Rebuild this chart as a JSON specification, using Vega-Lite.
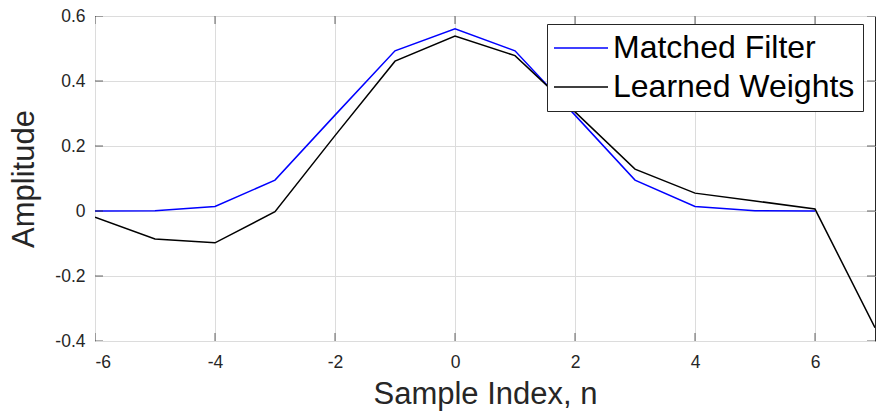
{
  "$schema": "https://vega.github.io/schema/vega-lite/v6.json",
  "autosize": {"type": "none"},
  "width": 780,
  "height": 325,
  "padding": {"left": 95, "top": 16, "right": 7, "bottom": 71},
  "background": "white",
  "config": {
    "view": {"stroke": "#262626", "strokeWidth": 1},
    "font": "Liberation Sans",
    "axis": {
      "domain": false,
      "labelColor": "#262626",
      "titleColor": "#262626",
      "labelFont": "Liberation Sans",
      "titleFont": "Liberation Sans",
      "labelFontSize": 17.5,
      "titleFontSize": 31,
      "titleFontWeight": "normal",
      "gridColor": "#dcdcdc",
      "gridWidth": 1,
      "ticks": false
    }
  },
  "datasets": {
    "curves": [
      {"n": -6, "amp": 0.0, "series": "Matched Filter"},
      {"n": -5, "amp": 0.001, "series": "Matched Filter"},
      {"n": -4, "amp": 0.014, "series": "Matched Filter"},
      {"n": -3, "amp": 0.095, "series": "Matched Filter"},
      {"n": -2, "amp": 0.295, "series": "Matched Filter"},
      {"n": -1, "amp": 0.493, "series": "Matched Filter"},
      {"n": 0, "amp": 0.561, "series": "Matched Filter"},
      {"n": 1, "amp": 0.493, "series": "Matched Filter"},
      {"n": 2, "amp": 0.295, "series": "Matched Filter"},
      {"n": 3, "amp": 0.095, "series": "Matched Filter"},
      {"n": 4, "amp": 0.014, "series": "Matched Filter"},
      {"n": 5, "amp": 0.001, "series": "Matched Filter"},
      {"n": 6, "amp": 0.0, "series": "Matched Filter"},
      {"n": -6, "amp": -0.019, "series": "Learned Weights"},
      {"n": -5, "amp": -0.086, "series": "Learned Weights"},
      {"n": -4, "amp": -0.098, "series": "Learned Weights"},
      {"n": -3, "amp": -0.002, "series": "Learned Weights"},
      {"n": -2, "amp": 0.232, "series": "Learned Weights"},
      {"n": -1, "amp": 0.461, "series": "Learned Weights"},
      {"n": 0, "amp": 0.538, "series": "Learned Weights"},
      {"n": 1, "amp": 0.478, "series": "Learned Weights"},
      {"n": 2, "amp": 0.305, "series": "Learned Weights"},
      {"n": 3, "amp": 0.129, "series": "Learned Weights"},
      {"n": 4, "amp": 0.055, "series": "Learned Weights"},
      {"n": 5, "amp": 0.031, "series": "Learned Weights"},
      {"n": 6, "amp": 0.006, "series": "Learned Weights"},
      {"n": 7, "amp": -0.359, "series": "Learned Weights"}
    ],
    "xticks": [{"v": -6}, {"v": -4}, {"v": -2}, {"v": 0}, {"v": 2}, {"v": 4}, {"v": 6}],
    "yticks": [{"v": -0.4}, {"v": -0.2}, {"v": 0}, {"v": 0.2}, {"v": 0.4}, {"v": 0.6}]
  },
  "layer": [
    {
      "data": {"name": "curves"},
      "mark": {"type": "line", "strokeWidth": 1.5, "clip": true},
      "encoding": {
        "x": {
          "field": "n", "type": "quantitative",
          "scale": {"domain": [-6, 7], "nice": false, "zero": false},
          "axis": {
            "orient": "bottom",
            "values": [-6, -4, -2, 0, 2, 4, 6],
            "labelExpr": "datum.value < 0 ? '-' + format(-datum.value, '~g') : format(datum.value, '~g')",
            "labelPadding": 12,
            "title": "Sample Index, n",
            "titlePadding": 9,
            "grid": true
          }
        },
        "y": {
          "field": "amp", "type": "quantitative",
          "scale": {"domain": [-0.4, 0.6], "nice": false, "zero": false},
          "axis": {
            "orient": "left",
            "values": [-0.4, -0.2, 0, 0.2, 0.4, 0.6],
            "labelExpr": "datum.value < 0 ? '-' + format(-datum.value, '.1~f') : format(datum.value, '.1~f')",
            "labelPadding": 10,
            "title": "Amplitude",
            "titlePadding": 14,
            "grid": true
          }
        },
        "color": {
          "field": "series", "type": "nominal",
          "scale": {"domain": ["Matched Filter", "Learned Weights"], "range": ["#0000ff", "#000000"]},
          "legend": {
            "title": null,
            "orient": "none",
            "legendX": 452,
            "legendY": 8,
            "fillColor": "white",
            "strokeColor": "#262626",
            "padding": 8,
            "symbolType": "M-2,0H2",
            "symbolSize": 729,
            "symbolOffset": 10,
            "symbolStrokeWidth": 1.5,
            "symbolFillColor": "transparent",
            "labelFontSize": 32,
            "labelFont": "Liberation Sans",
            "labelColor": "black",
            "labelOffset": 16,
            "labelLimit": 500,
            "rowPadding": 7
          }
        }
      }
    },
    {
      "data": {"name": "xticks"},
      "mark": {"type": "tick", "orient": "vertical", "size": 16, "thickness": 1, "color": "#262626", "clip": true},
      "encoding": {"x": {"field": "v", "type": "quantitative"}, "y": {"datum": -0.4}}
    },
    {
      "data": {"name": "xticks"},
      "mark": {"type": "tick", "orient": "vertical", "size": 16, "thickness": 1, "color": "#262626", "clip": true},
      "encoding": {"x": {"field": "v", "type": "quantitative"}, "y": {"datum": 0.6}}
    },
    {
      "data": {"name": "yticks"},
      "mark": {"type": "tick", "orient": "horizontal", "size": 16, "thickness": 1, "color": "#262626", "clip": true},
      "encoding": {"y": {"field": "v", "type": "quantitative"}, "x": {"datum": -6}}
    },
    {
      "data": {"name": "yticks"},
      "mark": {"type": "tick", "orient": "horizontal", "size": 16, "thickness": 1, "color": "#262626", "clip": true},
      "encoding": {"y": {"field": "v", "type": "quantitative"}, "x": {"datum": 7}}
    }
  ]
}
